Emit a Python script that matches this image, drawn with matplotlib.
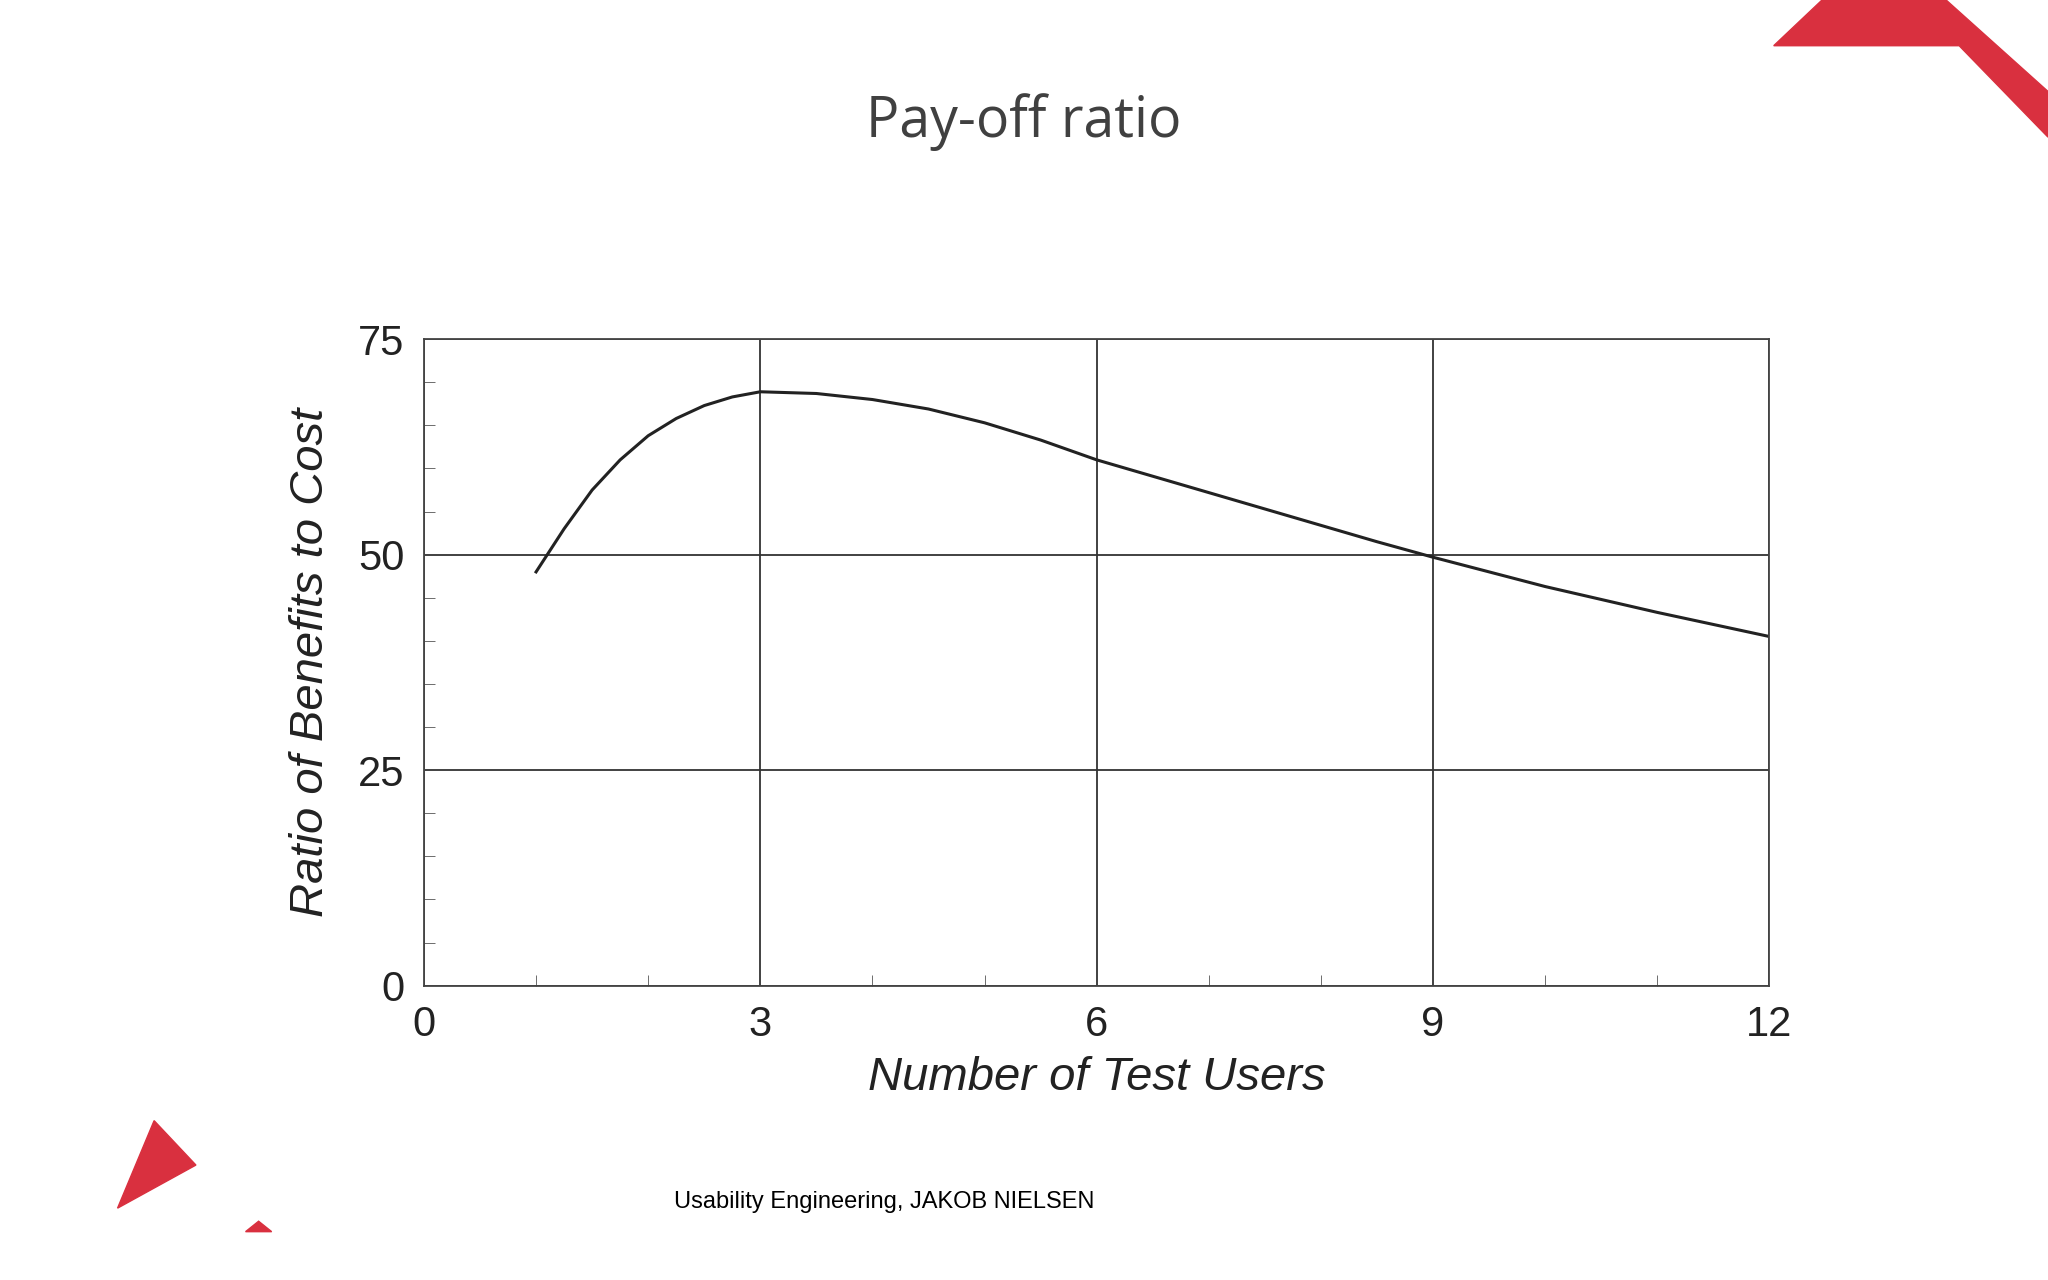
import matplotlib
matplotlib.use("Agg")
import matplotlib.pyplot as plt
from matplotlib.patches import Polygon

users = [1, 1.25, 1.5, 1.75, 2, 2.25, 2.5, 2.75, 3, 3.5, 4, 4.5, 5, 5.5, 6, 6.5, 7, 7.5, 8, 8.5, 9, 9.5, 10, 10.5, 11, 11.5, 12]
ratio = [48, 53, 57.5, 61, 63.8, 65.8, 67.3, 68.3, 68.9, 68.7, 68.0, 66.9, 65.3, 63.3, 61.0, 59.1, 57.2, 55.3, 53.4, 51.5, 49.7, 48.0, 46.3, 44.8, 43.3, 41.9, 40.5]
xticks = [0, 3, 6, 9, 12]
yticks = [0, 25, 50, 75]

fig = plt.figure(figsize=(20.48, 12.8), dpi=100)
ax = fig.add_axes([0.207, 0.230, 0.657, 0.505])
ax.plot(users, ratio, color="#222222", lw=2.2, solid_joinstyle="round")
ax.set_xlim(0, 12); ax.set_ylim(0, 75)
ax.set_xticks(xticks); ax.set_yticks(yticks)
ax.set_xticks(range(0, 13), minor=True)
ax.set_yticks(range(0, 76, 5), minor=True)
ax.grid(True, which="major", color="#333333", lw=1.3)
for s in ax.spines.values():
    s.set_color("#444444"); s.set_linewidth(1.3)
ax.tick_params(which="major", length=0, labelsize=30, pad=14, colors="#222222", direction="in")
ax.tick_params(which="minor", length=8, direction="in", color="#555555")
for lab in ax.get_xticklabels() + ax.get_yticklabels():
    lab.set_family("Liberation Sans")
ax.set_xlabel("Number of Test Users", fontsize=34, style="italic", family="Liberation Sans", color="#222222", labelpad=8)
ax.set_ylabel("Ratio of Benefits to Cost", fontsize=34, style="italic", family="Liberation Sans", color="#222222", labelpad=18)

fig.text(0.5, 0.905, "Pay-off ratio", ha="center", va="center", fontsize=40, family="Open Sans", color="#404040")
fig.text(0.329, 0.061, "Usability Engineering, JAKOB NIELSEN", ha="left", va="center", fontsize=17, family="Liberation Sans", color="black")

def px(pts):
    return [[x / 1568, 1 - y / 980] for x, y in pts]

red = "#d9303f"
fig.patches.append(Polygon(px([(1358, 35), (1395, 0), (1490, 0), (1568, 70), (1568, 105), (1500, 35)]), closed=True, transform=fig.transFigure, color=red))
fig.patches.append(Polygon(px([(118, 858), (150, 892), (90, 925)]), closed=True, transform=fig.transFigure, color=red))
fig.patches.append(Polygon(px([(188, 943), (208, 943), (198, 935)]), closed=True, transform=fig.transFigure, color=red))
fig.savefig("out.png", dpi=100)
